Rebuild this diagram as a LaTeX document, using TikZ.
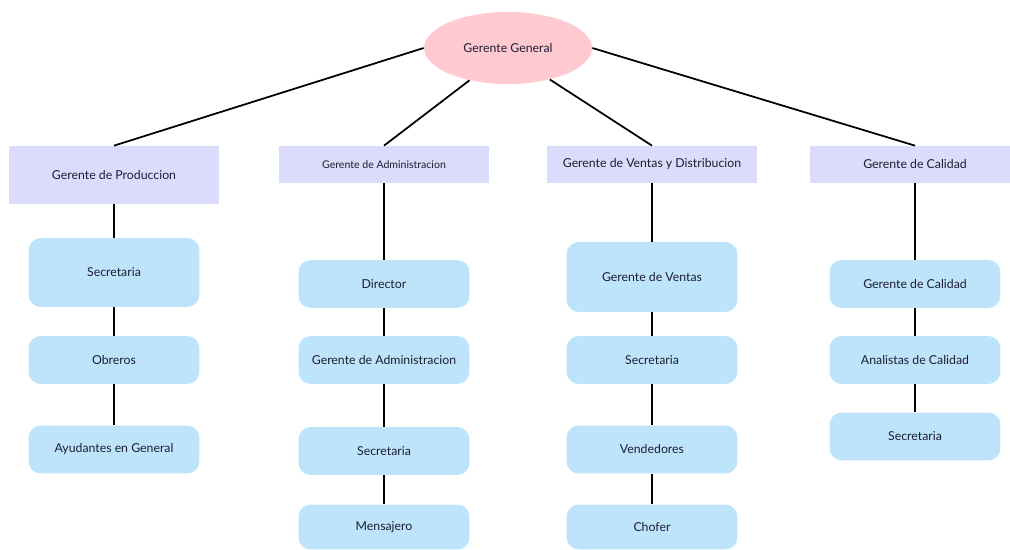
\documentclass[tikz,border=0pt]{standalone}
\usepackage{fontspec}
\setmainfont{Lato}
\usetikzlibrary{shapes.geometric, positioning}
\definecolor{pinkhead}{RGB}{255,201,208}
\definecolor{lilac}{RGB}{219,219,251}
\definecolor{skyblue}{RGB}{190,228,251}
\definecolor{inkdark}{RGB}{28,30,48}
\tikzset{
    head/.style={ellipse, fill=pinkhead, minimum width=3.36cm, minimum height=1.44cm, inner sep=0pt},
    dept/.style={rectangle, fill=lilac, minimum width=4.22cm, minimum height=0.74cm, inner sep=0pt},
    post/.style={rectangle, rounded corners=7pt, fill=skyblue, minimum width=3.42cm, minimum height=0.96cm, inner sep=0pt},
    link/.style={-, line width=1pt, black} }

\begin{document}
\begin{tikzpicture}[x=0.02cm, y=-0.02cm, font=\fontsize{7}{8.5}\selectfont, text=inkdark]
            \useasboundingbox (0,0) rectangle (1010,550);
            \node[head] (gg) at (508,48) {Gerente General};
            % ---- departments
            \node[dept, minimum height=1.16cm] (prod) at (114,175) {Gerente de Produccion};
            \node[dept, font=\fontsize{6}{7}\selectfont] (adm) at (384,164.5) {Gerente de Administracion};
            \node[dept] (ven) at (652,164.5) {Gerente de Ventas y Distribucion};
            \node[dept] (cal) at (915,164.5) {Gerente de Calidad};
            % ---- produccion
            \node[post, minimum height=1.38cm] (p1) at (114,272.5) {Secretaria};
            \node[post] (p2) at (114,360) {Obreros};
            \node[post] (p3) at (114,449.5) {Ayudantes en General};
            % ---- administracion
            \node[post] (a1) at (384,284) {Director};
            \node[post] (a2) at (384,360) {Gerente de Administracion};
            \node[post] (a3) at (384,451) {Secretaria};
            \node[post, minimum height=0.9cm] (a4) at (384,527) {Mensajero};
            % ---- ventas
            \node[post, minimum height=1.4cm] (v1) at (652,277) {Gerente de Ventas};
            \node[post] (v2) at (652,360) {Secretaria};
            \node[post] (v3) at (652,449.5) {Vendedores};
            \node[post, minimum height=0.9cm] (v4) at (652,527) {Chofer};
            % ---- calidad
            \node[post] (c1) at (915,284) {Gerente de Calidad};
            \node[post] (c2) at (915,360) {Analistas de Calidad};
            \node[post] (c3) at (915,436.5) {Secretaria};
            % ----
            \path[link]
                (gg.west) edge (prod.north)
                (gg.-140) edge (adm.north)
                (gg.-37) edge (ven.north)
                (gg.east) edge (cal.north)
                (prod) edge (p1) (p1) edge (p2) (p2) edge (p3)
                (adm) edge (a1) (a1) edge (a2) (a2) edge (a3) (a3) edge (a4)
                (ven) edge (v1) (v1) edge (v2) (v2) edge (v3) (v3) edge (v4)
                (cal) edge (c1) (c1) edge (c2) (c2) edge (c3);
\end{tikzpicture}
\end{document}
